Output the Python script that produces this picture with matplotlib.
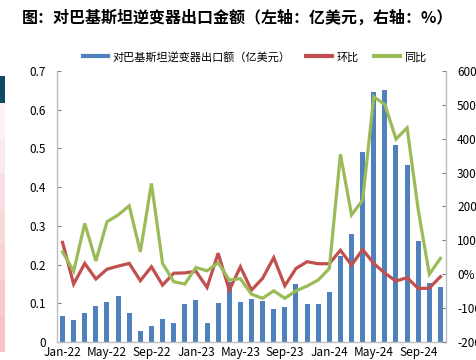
import matplotlib
matplotlib.use("Agg")
import matplotlib.pyplot as plt
from matplotlib.lines import Line2D
from matplotlib.patches import Rectangle
import numpy as np

plt.rcParams['font.family'] = ['Noto Sans CJK SC', 'DejaVu Sans']

# 월별 데이터 (Jan-22 ~ Nov-24)
months = ["Jan-22", "Feb-22", "Mar-22", "Apr-22", "May-22", "Jun-22", "Jul-22", "Aug-22",
          "Sep-22", "Oct-22", "Nov-22", "Dec-22", "Jan-23", "Feb-23", "Mar-23", "Apr-23",
          "May-23", "Jun-23", "Jul-23", "Aug-23", "Sep-23", "Oct-23", "Nov-23", "Dec-23",
          "Jan-24", "Feb-24", "Mar-24", "Apr-24", "May-24", "Jun-24", "Jul-24", "Aug-24",
          "Sep-24", "Oct-24", "Nov-24"]
export_usd = [0.068, 0.057, 0.076, 0.092, 0.103, 0.118, 0.075, 0.028,
              0.042, 0.059, 0.050, 0.097, 0.109, 0.048, 0.102, 0.155,
              0.103, 0.111, 0.107, 0.085, 0.090, 0.150, 0.097, 0.097,
              0.128, 0.221, 0.279, 0.490, 0.645, 0.651, 0.509, 0.457,
              0.260, 0.152, 0.142]
mom_pct = [94, -29, 32, -14, 15, 24, 32, -19,
           22, -32, 3, 4, 9, -39, 62, -47,
           22, -47, -12, 49, -34, 17, 37, 31,
           31, 71, 27, 73, 32, 3, -20, -10,
           -42, -41, -7]
yoy_pct = [66, 9, 150, 39, 155, 175, 202, 66,
           268, 32, -22, -29, 20, 10, 34, -17,
           -13, -59, -71, -49, -71, -49, -35, -17,
           17, 354, 175, 219, 524, 501, 399, 432,
           190, 0, 47]
tick_every = 4

BLUE = "#4F81BD"
RED = "#C0504D"
GREEN = "#9BBB59"
GRAY = "#BFBFBF"

fig = plt.figure(figsize=(4.76, 3.6), dpi=100)
ax = fig.add_axes([0.1197, 0.05, 0.937 - 0.1197, 0.7528])
ax2 = ax.twinx()

x = np.arange(len(months))
ax.bar(x, export_usd, width=0.45, color=BLUE, zorder=2)
ax2.plot(x, mom_pct, color=RED, lw=2.3, solid_joinstyle="miter")
ax2.plot(x, yoy_pct, color=GREEN, lw=2.3, solid_joinstyle="miter")

ax.set_xlim(-0.5, len(months) - 0.5)
ax.set_ylim(0, 0.7)
ax2.set_ylim(-200, 600)

ax.set_yticks(np.arange(0, 0.71, 0.1))
ax.set_yticklabels(["0" if v == 0 else f"{v:.1f}" for v in np.arange(0, 0.71, 0.1)])
ax2.set_yticks(np.arange(-200, 601, 100))
ax2.set_yticklabels([f"{v}%" for v in range(-200, 601, 100)])
ax.set_xticks(x[::tick_every])
ax.set_xticklabels(months[::tick_every])

for a in (ax, ax2):
    for s in a.spines.values():
        s.set_visible(False)
ax.spines["left"].set_visible(True)
ax.spines["bottom"].set_visible(True)
ax2.spines["right"].set_visible(True)
for s in (ax.spines["left"], ax.spines["bottom"], ax2.spines["right"]):
    s.set_color(GRAY)
    s.set_linewidth(1.0)

ax.tick_params(axis="y", direction="in", length=3, color="#808080", labelsize=8.5, pad=8)
ax.tick_params(axis="x", length=0, labelsize=8.5, pad=3)
ax2.tick_params(axis="y", direction="in", length=3, color="#808080", labelsize=8.5, pad=8)

fig.text(0.5, 0.95, "图：对巴基斯坦逆变器出口金额（左轴：亿美元，右轴：%）",
         ha="center", va="center", fontsize=11.5, fontweight="bold")

handles = [Line2D([], [], color=BLUE, lw=3),
           Line2D([], [], color=RED, lw=3),
           Line2D([], [], color=GREEN, lw=3)]
fig.legend(handles, ["对巴基斯坦逆变器出口额（亿美元）", "环比", "同比"],
           loc="center", bbox_to_anchor=(0.535, 0.842), ncol=3, frameon=False,
           fontsize=8, handlelength=2.3, handletextpad=0.4, columnspacing=1.4)

# 왼쪽 페이지 장식 (남색 박스 + 분홍 그라데이션)
fig.patches.append(Rectangle((0, 1 - 103 / 360), 5 / 476, 27 / 360,
                             transform=fig.transFigure, color="#0E4A64", lw=0))
shades = ["#FBF1F2", "#FAEAEC", "#FADFE2", "#F9D8DB", "#F9D1D5", "#F8CACE", "#F8C3C7"]
seg = (352 - 103) / len(shades)
for i, c in enumerate(shades):
    y0 = 1 - (103 + (i + 1) * seg) / 360
    fig.patches.append(Rectangle((0, y0), 5 / 476, seg / 360,
                                 transform=fig.transFigure, color=c, lw=0))

fig.savefig("out.png", dpi=100)
plt.close(fig)
